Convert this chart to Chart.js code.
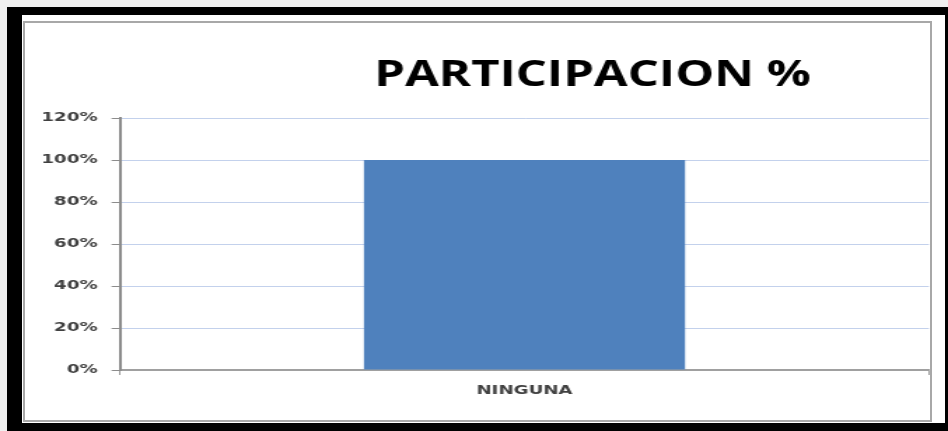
<!DOCTYPE html>
<html>
<head>
<meta charset="utf-8">
<script src="https://cdn.jsdelivr.net/npm/chart.js@4/dist/chart.umd.min.js"></script>
<style>
  html, body { margin: 0; padding: 0; background: #f0f0f0; width: 948px; height: 431px; overflow: hidden; }
  #frame { position: absolute; left: 7px; top: 7px; width: 941px; height: 424px; box-sizing: border-box;
           background: #fff; border-style: solid; border-color: #000;
           border-width: 8px 3px 8px 15px; }
  #inner { position: absolute; left: 23px; top: 21px; width: 909px; height: 401px; box-sizing: border-box;
           border: 2px solid #a8a8a8; }
  #wrap { position: absolute; left: 0; top: 0; width: 677px; height: 431px;
          transform: scaleX(1.40030); transform-origin: 0 0; }
</style>
</head>
<body>
<div id="frame"></div>
<div id="inner"></div>
<div id="wrap"><canvas id="c" width="677" height="431"></canvas></div>
<script>
const categories = ['NINGUNA'];
const participacion = [100];
const yTickValues = [0, 20, 40, 60, 80, 100, 120];
const chartTitle = 'PARTICIPACION %';

const STRETCH = 948 / 677;
const TITLE_CENTER = 592.5 / STRETCH;

Chart.defaults.font.family = "'DejaVu Sans', sans-serif";

const shiftTitle = {
  id: 'shiftTitle',
  afterLayout(chart) {
    const t = chart.titleBlock;
    if (!t) return;
    const half = (t.right - t.left) / 2;
    t.left = TITLE_CENTER - half;
    t.right = TITLE_CENTER + half;
  }
};

new Chart(document.getElementById('c'), {
  type: 'bar',
  data: {
    labels: categories,
    datasets: [{
      label: chartTitle,
      data: participacion,
      backgroundColor: '#4f81bd',
      borderWidth: 0,
      barPercentage: 0.397,
      categoryPercentage: 1
    }]
  },
  options: {
    responsive: false,
    animation: false,
    layout: { padding: { left: 0, right: 13.6, top: 0, bottom: 21 } },
    plugins: {
      legend: { display: false },
      tooltip: { enabled: false },
      title: {
        display: true,
        text: chartTitle,
        color: '#000',
        font: { family: "'Open Sans', sans-serif", size: 35, weight: 'bold', lineHeight: 1.2 },
        padding: { top: 55, bottom: 21 }
      }
    },
    scales: {
      x: {
        afterFit(s) { s.height = 40; },
        grid: { display: true, drawOnChartArea: false, drawTicks: true, tickLength: 5, tickColor: '#9a9a9a', offset: true },
        border: { display: true, color: '#a0a0a0', width: 2 },
        ticks: { color: '#404040', padding: 8, font: { size: 13, weight: 'bold' } }
      },
      y: {
        min: 0,
        max: 120,
        afterFit(s) { s.width = 85.7; },
        afterBuildTicks(s) { s.ticks = yTickValues.map(v => ({ value: v })); },
        grid: { color: '#c3d1ec', lineWidth: 1, drawTicks: true, tickLength: 6, tickColor: '#8c8c8c' },
        border: { display: true, color: '#8c8c8c', width: 2 },
        ticks: { color: '#404040', padding: 10, font: { size: 13, weight: 'bold' },
                 callback: v => v + '%' }
      }
    }
  },
  plugins: [shiftTitle]
});
</script>
</body>
</html>
